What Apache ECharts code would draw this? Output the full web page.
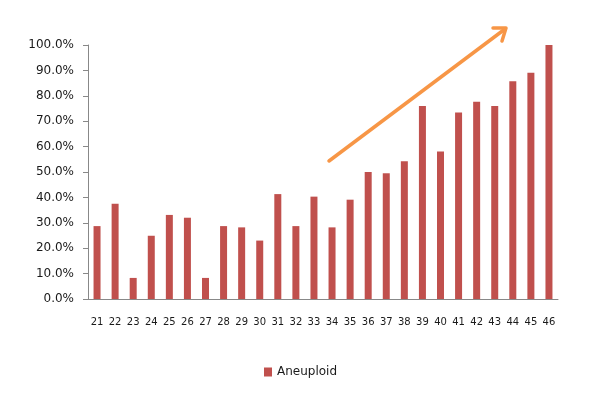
<!DOCTYPE html>
<html>
<head>
<meta charset="utf-8">
<script src="https://cdn.jsdelivr.net/npm/echarts@6/dist/echarts.min.js"></script>
<style>html,body{margin:0;padding:0;background:#fff;}#c{width:600px;height:395px;}</style>
</head>
<body>
<div id="c"></div>
<script>
const categories = ['21','22','23','24','25','26','27','28','29','30','31','32','33','34','35','36','37','38','39','40','41','42','43','44','45','46'];
const aneuploid = [28.7,37.5,8.3,24.9,33.1,32.0,8.3,28.7,28.2,23.0,41.3,28.7,40.3,28.2,39.1,50.0,49.5,54.2,76.0,58.1,73.4,77.7,76.0,85.7,89.1,100.0];
const seriesName = 'Aneuploid';

const chart = echarts.init(document.getElementById('c'), null, {renderer:'canvas'});
chart.setOption({
  animation:false,
  backgroundColor:'#fff',
  textStyle:{fontFamily:'DejaVu Sans'},
  grid:{left:88,right:42,top:45,bottom:96},
  legend:{
    data:[seriesName], left:259, top:361, itemWidth:8, itemHeight:9, itemGap:5,
    icon:'rect', textStyle:{fontSize:12,color:'#1a1a1a',fontFamily:'DejaVu Sans'}
  },
  xAxis:{
    type:'category', data:categories,
    axisLine:{lineStyle:{color:'#888'}},
    axisTick:{alignWithLabel:false,length:5,lineStyle:{color:'#888'}},
    axisLabel:{color:'#1a1a1a',fontSize:10,margin:18,interval:0}
  },
  yAxis:{
    type:'value', min:0, max:100, interval:10,
    axisLine:{show:true,lineStyle:{color:'#888'}},
    axisTick:{show:true,length:5,lineStyle:{color:'#888'}},
    splitLine:{show:false},
    axisLabel:{color:'#1a1a1a',fontSize:12,margin:14,padding:[3,0,0,0],formatter:v=>v.toFixed(1)+'%'}
  },
  series:[{
    name:seriesName, type:'bar', data:aneuploid, barWidth:7,
    itemStyle:{color:'#C0504D'}
  }],
  graphic:[
    {type:'line', shape:{x1:329,y1:161,x2:505,y2:29}, style:{stroke:'#F79646',lineWidth:3.5,lineCap:'round'}},
    {type:'polyline', shape:{points:[[493,28],[506,28],[502,41]]}, style:{stroke:'#F79646',lineWidth:3.5,fill:null,lineCap:'round',lineJoin:'round'}}
  ]
});
</script>
</body>
</html>
